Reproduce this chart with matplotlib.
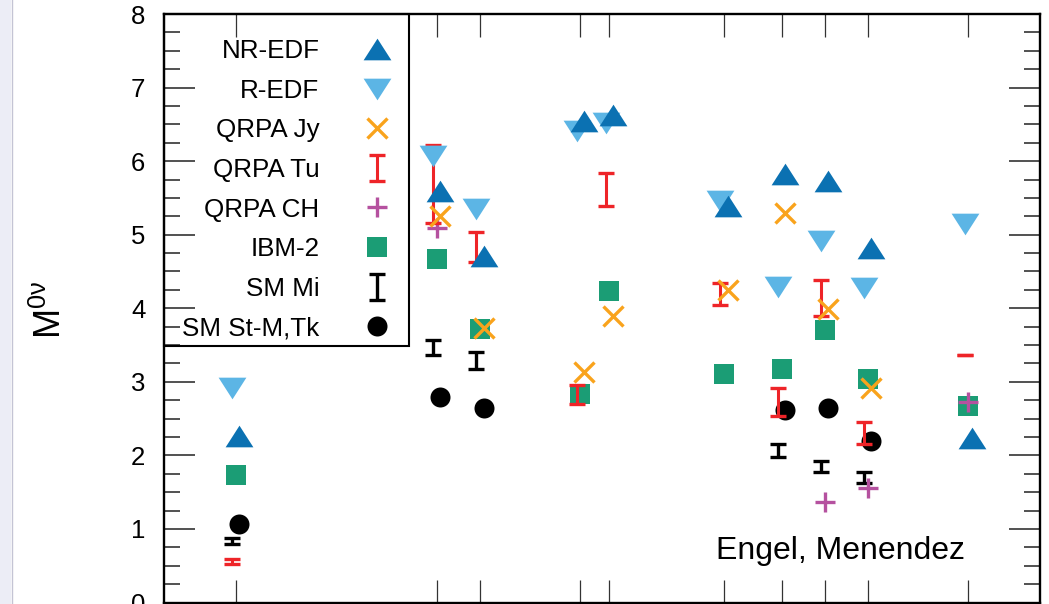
import numpy as np
import matplotlib
matplotlib.use("Agg")
import matplotlib.pyplot as plt
from matplotlib.patches import Rectangle
from matplotlib.lines import Line2D

plt.rcParams['font.family'] = ['Liberation Sans', 'DejaVu Sans']
plt.rcParams['mathtext.fontset'] = 'custom'
plt.rcParams['mathtext.rm'] = 'Liberation Sans'
plt.rcParams['mathtext.it'] = 'Liberation Sans:italic'

# mass numbers of the double-beta isotopes
isotopes = ['48Ca', '76Ge', '82Se', '96Zr', '100Mo', '116Cd', '124Sn', '130Te', '136Xe', '150Nd']
A = [48, 76, 82, 96, 100, 116, 124, 130, 136, 150]

# nuclear matrix elements (nan = no value)
nr_edf = [2.27, 5.60, 4.71, 6.55, 6.63, 5.39, 5.83, 5.73, 4.82, 2.23]
r_edf = [2.91, 6.07, 5.35, 6.41, 6.52, 5.46, 4.29, 4.92, 4.27, 5.14]
qrpa_jy = [np.nan, 5.26, 3.73, 3.14, 3.89, 4.25, 5.30, 3.99, 2.91, np.nan]
qrpa_tu_lo = [0.53, 5.16, 4.63, 2.70, 5.39, 4.05, 2.54, 3.89, 2.16, 3.36]
qrpa_tu_hi = [0.59, 6.22, 5.03, 2.96, 5.84, 4.35, 2.92, 4.39, 2.46, 3.36]
qrpa_ch = [np.nan, 5.09, np.nan, np.nan, np.nan, np.nan, np.nan, 1.36, 1.55, 2.72]
ibm2 = [1.74, 4.67, 3.72, 2.83, 4.23, 3.10, 3.18, 3.70, 3.04, 2.67]
sm_mi_lo = [0.79, 3.36, 3.18, np.nan, np.nan, np.nan, 1.98, 1.77, 1.63, np.nan]
sm_mi_hi = [0.88, 3.57, 3.40, np.nan, np.nan, np.nan, 2.15, 1.93, 1.77, np.nan]
sm_stm = [1.07, 2.80, 2.64, np.nan, np.nan, np.nan, 2.62, 2.65, 2.19, np.nan]

c_nr = '#0b71b2'
c_r = '#5cb5e5'
c_jy = '#f9a31c'
c_tu = '#ee2428'
c_ch = '#b5519f'
c_ibm = '#1b9d75'
c_sm = '#000000'

A = np.array(A, dtype=float)
dx = 0.5

fig = plt.figure(figsize=(10.49, 6.04), dpi=100)
# page strip on the left edge
fig.patches.append(Rectangle((0, 0), 11 / 1049, 1, transform=fig.transFigure,
                             facecolor='#ecedf6', edgecolor='none', zorder=0))
fig.add_artist(Line2D([11.5 / 1049, 11.5 / 1049], [0, 1], transform=fig.transFigure,
                      color='#c4c4d4', lw=1.0))

ax = fig.add_axes([164 / 1049, 1 - 602.5 / 604, (1040 - 164) / 1049, (602.5 - 14) / 604])

tri = [(-1, -0.78), (1, -0.78), (0, 0.78), (-1, -0.78)]
tri_dn = [(-1, 0.78), (1, 0.78), (0, -0.78), (-1, 0.78)]

def lohi(lo, hi):
    lo = np.array(lo)
    hi = np.array(hi)
    mid = (lo + hi) / 2
    return mid, [mid - lo, hi - mid]

h_stm, = ax.plot(A + dx, sm_stm, 'o', ms=14.4, color=c_sm, mew=0, ls='none',
                 label='SM St-M,Tk')
mid, err = lohi(sm_mi_lo, sm_mi_hi)
h_mi = ax.errorbar(A - dx, mid, yerr=err, fmt='none', ecolor=c_sm, elinewidth=2.4,
                   capsize=5.8, capthick=2.4, label='SM Mi')
h_ibm, = ax.plot(A, ibm2, 's', ms=14.4, color=c_ibm, mew=0, ls='none', label='IBM-2')
h_ch, = ax.plot(A, qrpa_ch, '+', ms=15, color=c_ch, mew=2.4, ls='none', label='QRPA CH')
mid, err = lohi(qrpa_tu_lo, qrpa_tu_hi)
h_tu = ax.errorbar(A - dx, mid, yerr=err, fmt='none', ecolor=c_tu, elinewidth=2.2,
                   capsize=5.8, capthick=2.4, label='QRPA Tu')
h_jy, = ax.plot(A + dx, qrpa_jy, 'x', ms=15, color=c_jy, mew=2.4, ls='none', label='QRPA Jy')
h_r, = ax.plot(A - dx, r_edf, marker=tri_dn, ms=20, color=c_r, mew=0, ls='none', label='R-EDF')
h_nr, = ax.plot(A + dx, nr_edf, marker=tri, ms=20, color=c_nr, mew=0, ls='none', label='NR-EDF')

ax.set_xlim(38, 160)
ax.set_ylim(0, 8)
ax.set_xticks(A)
ax.set_xticklabels(isotopes)
ax.set_yticks(np.arange(0, 9, 1))
ax.set_yticks(np.arange(0, 8.01, 0.25), minor=True)
ax.tick_params(axis='x', which='major', direction='in', top=True, bottom=True,
               length=16.5, width=0.9, color='#333333', labelbottom=False)
ax.tick_params(axis='y', which='major', direction='in', left=True, right=True,
               length=22, width=1.2, color='#333333', labelsize=18.5, pad=13.5)
ax.tick_params(axis='y', which='minor', direction='in', left=True, right=True,
               length=11.5, width=1.2, color='#333333')
for s in ax.spines.values():
    s.set_linewidth(1.7)

ax_h = 588.5
leg = ax.legend(handles=[h_nr, h_r, h_jy, h_tu, h_ch, h_ibm, h_mi, h_stm],
                loc='upper left', bbox_to_anchor=(0, 1 - 7 / ax_h), borderaxespad=0,
                markerfirst=False, fontsize=18.7, frameon=False,
                handlelength=1.0, handletextpad=1.7, borderpad=0.7, labelspacing=0.6)
# legend box
ax.add_patch(Rectangle((0, (602.5 - 346) / ax_h), (409 - 164) / 876, (346 - 14) / ax_h,
                       transform=ax.transAxes, fill=False, edgecolor='black', lw=1.5,
                       clip_on=False, zorder=5))

ax.text(0.914, 0.074, 'Engel, Menendez', transform=ax.transAxes, ha='right',
        va='baseline', fontsize=23)

fig.text(69 / 1049, 1 - 310 / 604, r'$\mathrm{M}^{\mathrm{0\nu}}$', rotation=90,
         ha='right', va='center', fontsize=26)

fig.savefig('out.png', dpi=100)
